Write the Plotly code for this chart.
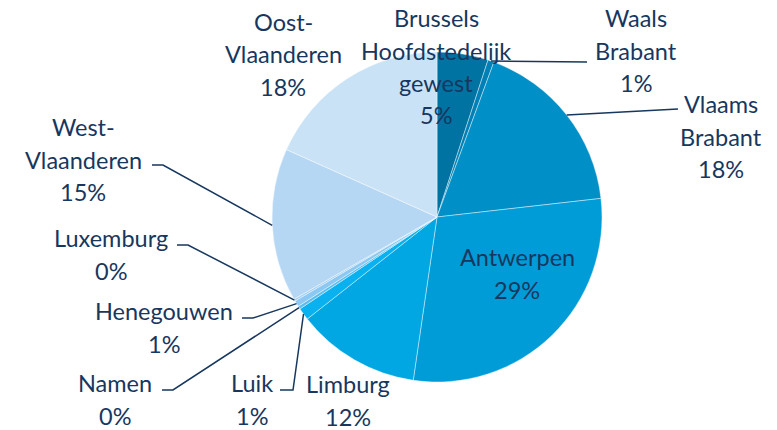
import math
import plotly.graph_objects as go

# ---- data ----
provinces = ["Brussels Hoofdstedelijk gewest", "Waals Brabant", "Vlaams Brabant", "Antwerpen",
             "Limburg", "Luik", "Namen", "Henegouwen", "Luxemburg", "West-Vlaanderen", "Oost-Vlaanderen"]
label_lines = [["Brussels", "Hoofdstedelijk", "gewest"], ["Waals", "Brabant"], ["Vlaams", "Brabant"],
               ["Antwerpen"], ["Limburg"], ["Luik"], ["Namen"], ["Henegouwen"], ["Luxemburg"],
               ["West-", "Vlaanderen"], ["Oost-", "Vlaanderen"]]
shares = [5.0, 0.6, 17.6, 29.1, 12.1, 1.2, 0.3, 0.6, 0.2, 15.0, 18.3]

# ---- style ----
W, H = 777, 430
OFF = 0  # page body margin removed via post_script
CX, CY, R = 437, 217, 165
colors = ["#0073A2", "#0080B6", "#008FC7", "#009CD7", "#00A7E2", "#0AB1EF",
          "#5CBEF0", "#8CC8F2", "#A2D0F3", "#B6D7F3", "#C9E2F6"]
text_color = "#17375E"
FONT = "Lato"
FS = 23.5
LH = 32.5
# label centre x and first-line y (pixels)
label_pos = [(436, 18), (636, 18), (721, 104), (517, 257), (348, 384), (252, 383),
             (115, 383), (164, 311), (111, 238), (83, 127), (283, 22)]
# leader line waypoints (pixels) from label side; slice end computed from data
leaders = {1: [(587, 62)], 2: [(678, 109)], 9: [(152, 165), (163, 165)],
           8: [(177, 245), (188, 245)], 7: [(242, 318), (253, 318)],
           6: [(162, 390), (173, 390)], 5: [(280, 390), (293, 390)]}


def px(x):
    return (x - OFF) / W


def py(y):
    return 1 - (y - OFF) / H


fig = go.Figure(go.Pie(
    labels=provinces, values=shares, sort=False, direction="clockwise", rotation=0,
    marker=dict(colors=colors, line=dict(color="rgba(255,255,255,0.7)", width=0.6)),
    textinfo="none", hoverinfo="label+percent", showlegend=False,
    domain=dict(x=[px(CX - R), px(CX + R)], y=[py(CY + R), py(CY - R)]),
))

total = sum(shares)
cum = 0.0
annotations = []
shapes = []
for i, v in enumerate(shares):
    mid = (cum + v / 2) / total * 2 * math.pi
    cum += v
    lines = label_lines[i] + [f"{round(v / total * 100)}%"]
    lx, ly = label_pos[i]
    for k, t in enumerate(lines):
        annotations.append(dict(x=px(lx), y=py(ly + k * LH), xref="paper", yref="paper",
                                text=t, showarrow=False, xanchor="center", yanchor="middle",
                                font=dict(family=FONT, size=FS, color=text_color)))
    if i in leaders:
        ex, ey = CX + R * math.sin(mid), CY - R * math.cos(mid)
        pts = leaders[i] + [(ex, ey)]
        path = "M " + " L ".join(f"{px(x):.5f},{py(y):.5f}" for x, y in pts)
        shapes.append(dict(type="path", path=path, xref="paper", yref="paper",
                           line=dict(color=text_color, width=1.5)))

fig.update_layout(width=W, height=H, autosize=False, margin=dict(l=0, r=0, t=0, b=0),
                  paper_bgcolor="white", plot_bgcolor="white",
                  annotations=annotations, shapes=shapes)
fig.write_html("out.html", config={"displayModeBar": False},
               post_script="document.body.style.margin='0';document.body.style.overflow='hidden';")
